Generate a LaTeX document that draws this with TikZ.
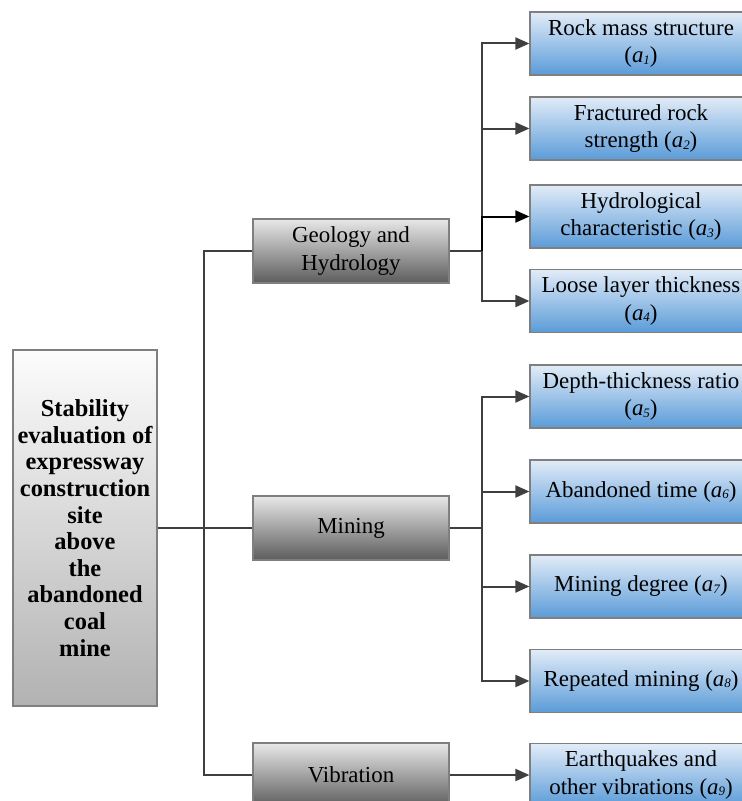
\documentclass[tikz,border=0pt]{standalone}
\usepackage{fontspec}
\setmainfont{Liberation Serif}
\usetikzlibrary{arrows.meta,shadings}
\definecolor{lnc}{HTML}{3F3F3F}
\definecolor{bdc}{HTML}{7F7F7F}
\definecolor{bluetop}{HTML}{E2ECF8}
\definecolor{bluebot}{HTML}{5A9BD8}
\definecolor{graytop}{HTML}{E8E8E8}
\definecolor{graybot}{HTML}{5C5C5C}
\definecolor{lefttop}{HTML}{FCFCFC}
\definecolor{leftbot}{HTML}{B2B2B2}
\newcommand{\ai}[1]{\textit{a}{\fontsize{13}{13}\selectfont\raisebox{-1.5pt}{\textit{#1}}}}
\tikzset{
  base/.style={draw=bdc, line width=1.2bp, rectangle, align=center, inner sep=0pt,
    font=\fontsize{23}{27.5}\selectfont},
  rootbox/.style={base, top color=lefttop, bottom color=leftbot, minimum width=144bp, minimum height=356bp,
    font=\fontsize{24.5}{26.7}\selectfont\bfseries},
  midbox/.style={base, top color=graytop, bottom color=graybot, minimum width=196bp, minimum height=64bp},
  leafbox/.style={base, top color=bluetop, bottom color=bluebot, minimum width=222bp, minimum height=63bp},
  conn/.style={draw=lnc, line width=2bp},
  arr/.style={conn, -{Triangle[length=14bp,width=12bp]}}
}
\begin{document}
\begin{tikzpicture}[x=1bp,y=-1bp]
\useasboundingbox (0,0) rectangle (742,801);
\begin{scope}
\clip (0,0) rectangle (742,801);
\node[rootbox] (L) at (85,528) {Stability\\evaluation of\\expressway\\construction\\site\\above\\the\\abandoned\\coal\\mine};

\node[midbox] (G) at (351,251) {Geology and\\Hydrology};
\node[midbox] (M) at (351,528) {Mining};
\node[midbox] (V) at (351,775) {Vibration};

\node[leafbox] (R1) at (641,43.5) {Rock mass structure\\(\ai{1})};
\node[leafbox] (R2) at (641,128.5) {Fractured rock\\strength (\ai{2})};
\node[leafbox] (R3) at (641,216.5) {Hydrological\\characteristic (\ai{3})};
\node[leafbox] (R4) at (641,301) {Loose layer thickness\\(\ai{4})};
\node[leafbox] (R5) at (641,396.5) {Depth-thickness ratio\\(\ai{5})};
\node[leafbox] (R6) at (641,491.5) {Abandoned time (\ai{6})};
\node[leafbox] (R7) at (641,586.5) {Mining degree (\ai{7})};
\node[leafbox] (R8) at (641,681) {Repeated mining (\ai{8})};
\node[leafbox] (R9) at (641,775) {Earthquakes and\\other vibrations (\ai{9})};

\coordinate (T) at (204,528);
\coordinate (BG) at (482,251);
\coordinate (BM) at (482,528);

\draw[conn] (L.east) -- (M.west);
\draw[conn] (G.west) -| (T) |- (V.west);

\draw[conn] (G.east) -- (BG);
\draw[conn] (M.east) -- (BM);

\draw[arr] (BG) |- (R1.west);
\draw[arr] (BG) |- (R2.west);
\draw[arr, draw=black] (BG) |- (R3.west);
\draw[arr] (BG) |- (R4.west);

\draw[arr] (BM) |- (R5.west);
\draw[arr] (BM) |- (R6.west);
\draw[arr] (BM) |- (R7.west);
\draw[arr] (BM) |- (R8.west);

\draw[arr] (V.east) -- (R9.west);
\end{scope}
\end{tikzpicture}
\end{document}
